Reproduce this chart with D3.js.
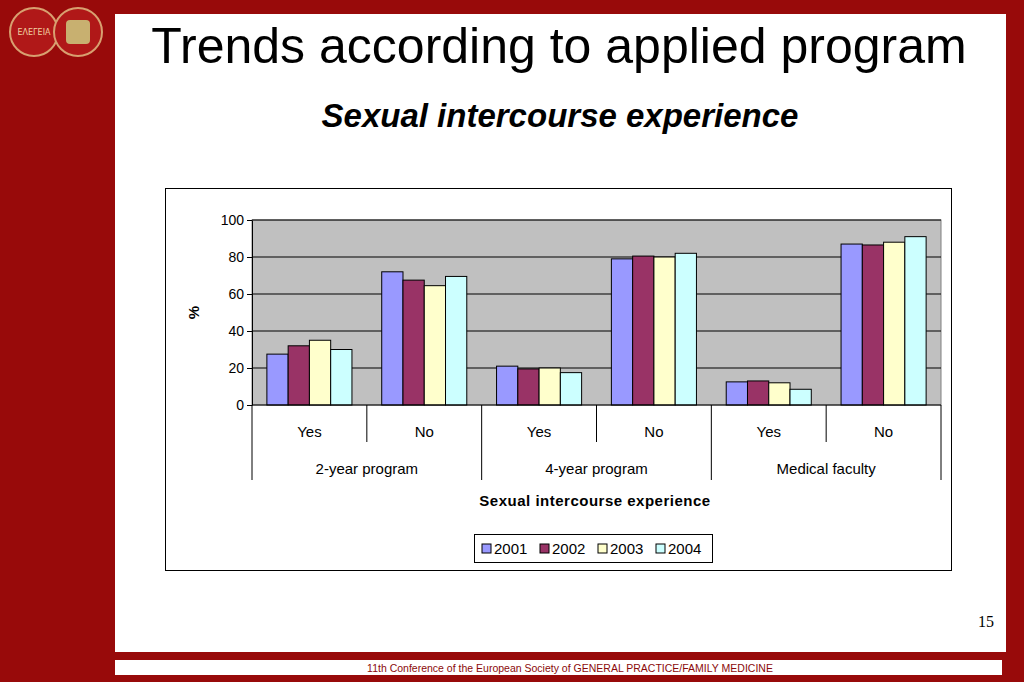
<!DOCTYPE html>
<html><head><meta charset="utf-8">
<script src="https://cdn.jsdelivr.net/npm/d3@7"></script>
<style>body{margin:0;background:#980a0a;}</style>
</head><body>
<svg id="c" width="1024" height="682"></svg>
<script>
const groups = ['2-year program', '4-year program', 'Medical faculty'];
const answers = ['Yes', 'No'];
const years = ['2001', '2002', '2003', '2004'];
const colors = ['#9999ff', '#993366', '#ffffcc', '#ccffff'];
const v2001 = [27.5, 72, 21, 79, 12.5, 87];
const v2002 = [32, 67.5, 19.5, 80.5, 13, 86.5];
const v2003 = [35, 64.5, 20, 80, 12, 88];
const v2004 = [30, 69.5, 17.5, 82, 8.5, 91];
const series = [v2001, v2002, v2003, v2004];
const yTicks = [0, 20, 40, 60, 80, 100];

const svg = d3.select('#c');
// slide background
svg.append('rect').attr('x', 115).attr('y', 14).attr('width', 891).attr('height', 638).attr('fill', '#fff');
svg.append('rect').attr('x', 115).attr('y', 660).attr('width', 887).attr('height', 15).attr('fill', '#fff');
svg.append('text').attr('x', 570).attr('y', 671.5).attr('text-anchor', 'middle')
  .attr('font-family', 'Liberation Sans Narrow, Liberation Sans, sans-serif').attr('font-size', 10.5).attr('fill', '#8b0a0a')
  .text('11th Conference of the European Society of   GENERAL PRACTICE/FAMILY MEDICINE');
// logos
[[34, 'ΕΛΕΓΕΙΑ'], [78, '']].forEach(([cx, t]) => {
  svg.append('circle').attr('cx', cx).attr('cy', 32).attr('r', 24).attr('fill', '#b01818').attr('stroke', '#d8a070').attr('stroke-width', 2);
  if (t) svg.append('text').attr('x', cx).attr('y', 35).attr('text-anchor', 'middle').attr('font-size', 8).attr('fill', '#f0d0a0').attr('font-family', 'DejaVu Sans').text(t);
  else svg.append('rect').attr('x', cx - 12).attr('y', 20).attr('width', 24).attr('height', 24).attr('rx', 4).attr('fill', '#c8b070');
});
// titles
svg.append('text').attr('x', 559).attr('y', 63).attr('text-anchor', 'middle').attr('font-family', 'Liberation Sans, Arial, sans-serif')
  .attr('font-size', 50).text('Trends according to applied program');
svg.append('text').attr('x', 560).attr('y', 127).attr('text-anchor', 'middle').attr('font-family', 'Liberation Sans, Arial, sans-serif')
  .attr('font-size', 33).attr('font-weight', 'bold').attr('font-style', 'italic').text('Sexual intercourse experience');
// chart frame
svg.append('rect').attr('x', 165.5).attr('y', 188.5).attr('width', 786).attr('height', 382).attr('fill', '#fff').attr('stroke', '#000');

const L = 252, R = 941, T = 220, B = 405;
const cats = d3.range(6);
const x = d3.scaleBand().domain(cats).range([L, R]);
const xi = d3.scaleBand().domain(d3.range(4)).range([0, x.bandwidth()]).paddingOuter(0.7).paddingInner(0);
const y = d3.scaleLinear().domain([0, 100]).range([B, T]);
const font = 'Liberation Sans, Arial, sans-serif';

svg.append('rect').attr('x', L).attr('y', T).attr('width', R - L).attr('height', B - T).attr('fill', '#c0c0c0').attr('stroke', '#808080');
svg.append('g').selectAll('line').data(yTicks.slice(1)).join('line')
  .attr('x1', L).attr('x2', R).attr('y1', d => y(d)).attr('y2', d => y(d)).attr('stroke', '#000');
const yAxis = svg.append('g').attr('transform', `translate(${L},0)`).call(d3.axisLeft(y).tickValues(yTicks).tickSize(5).tickSizeOuter(0));
yAxis.selectAll('text').attr('font-family', font).attr('font-size', 14).attr('fill', '#000');
yAxis.select('.domain').attr('stroke', '#000');
svg.append('text').attr('transform', `translate(199,${(T + B) / 2}) rotate(-90)`).attr('text-anchor', 'middle')
  .attr('font-family', font).attr('font-size', 15).attr('font-weight', 'bold').text('%');

series.forEach((s, si) => {
  svg.append('g').selectAll('rect').data(s).join('rect')
    .attr('x', (d, i) => x(i) + xi(si)).attr('width', xi.bandwidth())
    .attr('y', d => y(d)).attr('height', d => B - y(d))
    .attr('fill', colors[si]).attr('stroke', '#000').attr('stroke-width', 1);
});
svg.append('line').attr('x1', L).attr('x2', R).attr('y1', B).attr('y2', B).attr('stroke', '#000');
// category axis
cats.forEach(i => {
  svg.append('text').attr('x', x(i) + x.bandwidth() / 2).attr('y', 437).attr('text-anchor', 'middle')
    .attr('font-family', font).attr('font-size', 15).text(answers[i % 2]);
});
d3.range(7).forEach(i => {
  const xx = L + i * x.bandwidth();
  svg.append('line').attr('x1', xx).attr('x2', xx).attr('y1', B).attr('y2', i % 2 === 0 ? 480 : 442).attr('stroke', '#000');
});
groups.forEach((g, gi) => {
  svg.append('text').attr('x', x(gi * 2) + x.bandwidth()).attr('y', 474).attr('text-anchor', 'middle')
    .attr('font-family', font).attr('font-size', 15).text(g);
});
svg.append('text').attr('x', 595).attr('y', 506).attr('text-anchor', 'middle').attr('font-family', font)
  .attr('font-size', 15).attr('font-weight', 'bold').attr('letter-spacing', 0.5).text('Sexual intercourse experience');
// legend
svg.append('rect').attr('x', 474.5).attr('y', 534.5).attr('width', 238).attr('height', 28).attr('fill', '#fff').attr('stroke', '#000');
const lx = d3.scaleBand().domain(years).range([480, 712]);
years.forEach((yr, i) => {
  svg.append('rect').attr('x', lx(yr) + 2).attr('y', 544).attr('width', 9).attr('height', 9).attr('fill', colors[i]).attr('stroke', '#000');
  svg.append('text').attr('x', lx(yr) + 14).attr('y', 554).attr('font-family', font).attr('font-size', 15).text(yr);
});
svg.append('text').attr('x', 994).attr('y', 627).attr('text-anchor', 'end').attr('font-family', 'Liberation Serif, serif').attr('font-size', 16).text('15');
</script>
</body></html>
